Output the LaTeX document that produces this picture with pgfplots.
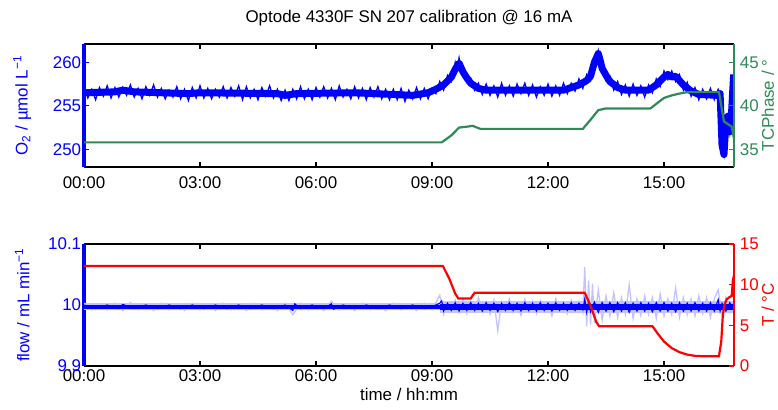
\documentclass[border=0pt]{standalone}
\usepackage{fontspec}
\setmainfont{Liberation Sans}
\usepackage{pgfplots}
\usepackage{pgfplotstable}
\pgfplotsset{compat=1.18}
\definecolor{tcgreen}{RGB}{46,139,87}
\definecolor{lightflow}{RGB}{195,195,255}

% smoothed O2 trace (centre of the noisy band)
\pgfplotstableread{
t v
0.0 256.5
0.8 256.6
1.0 256.8
1.3 256.6
2.0 256.5
2.7 256.4
3.0 256.5
5.0 256.4
5.2 256.2
5.5 256.4
7.0 256.5
8.0 256.3
8.5 256.2
8.9 256.5
9.1 256.9
9.3 257.4
9.5 258.3
9.6 259.2
9.7 259.9
9.8 258.9
9.9 258.2
10.0 257.6
10.2 257.0
10.4 256.8
12.4 256.8
12.6 257.1
12.8 257.4
13.0 257.9
13.1 258.4
13.2 260.0
13.3 261.0
13.35 260.2
13.4 259.3
13.5 258.5
13.6 257.8
13.8 257.1
14.0 256.8
14.6 256.8
14.8 257.4
15.0 258.3
15.1 258.6
15.2 258.3
15.3 258.4
15.5 257.4
15.7 256.7
15.9 256.3
16.4 256.2
16.45 256.4
16.5 250.5
16.55 249.4
16.6 253.0
16.65 253.8
16.7 252.0
16.75 254.5
16.8 258.6
}\otwobase

% O2 noisy samples
\pgfplotstableread{
t v
0.0 257.2
0.1 255.9
0.2 256.9
0.3 255.7
0.4 257.1
0.5 256.1
0.6 257.3
0.7 255.9
0.8 257.1
0.9 256.0
1.0 257.1
1.1 256.2
1.2 257.4
1.3 256.0
1.4 257.0
1.5 255.8
1.6 257.2
1.7 256.2
1.8 257.4
1.9 256.0
2.0 257.0
2.1 255.8
2.2 256.8
2.3 256.0
2.4 257.2
2.5 255.8
2.6 256.9
2.7 255.6
2.8 257.1
2.9 255.9
3.0 257.3
3.1 255.9
3.2 257.0
3.3 255.8
3.4 256.9
3.5 256.0
3.6 257.2
3.7 255.9
3.8 257.1
3.9 256.1
4.0 257.3
4.1 255.7
4.2 257.2
4.3 255.9
4.4 256.9
4.5 255.7
4.6 257.1
4.7 256.1
4.8 257.3
4.9 255.9
5.0 256.9
5.1 255.6
5.2 256.8
5.3 255.6
5.4 256.9
5.5 255.8
5.6 257.2
5.7 255.8
5.8 256.9
5.9 255.7
6.0 257.1
6.1 256.0
6.2 257.2
6.3 255.9
6.4 257.0
6.5 255.7
6.6 257.3
6.7 256.0
6.8 256.9
6.9 255.8
7.0 257.2
7.1 255.9
7.2 257.0
7.3 255.7
7.4 257.1
7.5 256.0
7.6 257.2
7.7 255.8
7.8 256.9
7.9 255.7
8.0 256.9
8.1 255.7
8.2 257.0
8.3 255.5
8.4 256.8
8.5 255.8
8.6 257.1
8.7 255.8
8.8 257.0
8.9 255.8
9.0 257.0
9.1 256.4
9.2 257.8
9.3 256.8
9.4 258.5
9.5 257.8
9.6 260.0
9.65 259.2
9.7 260.5
9.75 259.2
9.8 259.5
9.9 257.7
10.0 258.2
10.1 256.8
10.2 257.6
10.3 256.3
10.4 257.5
10.5 256.2
10.6 257.3
10.7 256.0
10.8 257.6
10.9 256.2
11.0 257.3
11.1 256.1
11.2 257.5
11.3 256.4
11.4 257.6
11.5 256.2
11.6 257.4
11.7 256.0
11.8 257.2
11.9 256.2
12.0 257.5
12.1 256.1
12.2 257.3
12.3 256.2
12.4 257.6
12.5 256.4
12.6 257.6
12.7 256.7
12.8 258.1
12.9 257.0
13.0 258.6
13.1 257.9
13.2 260.4
13.25 260.2
13.3 261.3
13.35 259.8
13.4 259.8
13.5 257.9
13.6 258.4
13.7 256.8
13.8 257.8
13.9 256.3
14.0 257.4
14.1 256.1
14.2 257.5
14.3 256.2
14.4 257.3
14.5 256.0
14.6 257.4
14.7 256.5
14.8 258.1
14.9 257.2
15.0 259.0
15.1 258.0
15.2 259.0
15.3 257.8
15.4 258.6
15.5 256.8
15.6 257.7
15.7 256.1
15.8 257.1
15.9 255.7
16.0 256.9
16.1 255.8
16.2 257.0
16.3 255.7
16.4 256.9
16.45 256.4
16.5 250.5
16.55 249.4
16.6 253.0
16.65 253.8
16.7 252.0
16.75 254.5
16.8 258.6
}\otwo

\pgfplotstableread{
t v
0.0 35.8
9.25 35.8
9.5 36.6
9.7 37.5
9.9 37.6
10.05 37.7
10.25 37.35
12.9 37.35
13.1 38.4
13.3 39.5
13.5 39.7
14.65 39.7
14.85 40.4
15.0 40.9
15.2 41.2
15.5 41.5
15.7 41.6
16.42 41.6
16.5 39.5
16.55 38.2
16.65 37.9
16.75 37.6
16.81 36.2
}\tcphase

\pgfplotstableread{
t v
0.0 12.3
9.28 12.3
9.45 10.7
9.6 8.9
9.68 8.3
10.0 8.3
10.1 9.0
12.95 9.0
13.1 7.4
13.25 5.4
13.32 4.9
14.7 4.9
14.85 3.9
15.0 3.0
15.2 2.2
15.4 1.7
15.6 1.4
15.8 1.25
16.0 1.2
16.42 1.2
16.48 3.0
16.52 6.2
16.56 7.5
16.62 8.2
16.7 8.5
16.75 8.6
16.78 10.5
16.81 11.2
}\temp

% flow: centre of the band, quiet and noisy parts
\pgfplotstableread{
t v
0.0 9.997
9.2 9.997
}\flowbaseA
\pgfplotstableread{
t v
9.2 9.997
16.81 9.997
}\flowbaseB

% raw flow (light)
\pgfplotstableread{
t v
0.0 10.003
0.2 9.992
0.4 10.002
0.6 9.992
0.8 10.003
1.0 9.991
1.2 10.004
1.4 9.992
1.6 10.002
1.8 9.991
2.0 10.003
2.2 9.992
2.4 10.002
2.6 9.991
2.8 10.003
3.0 9.992
3.2 10.002
3.4 9.991
3.6 10.003
3.8 9.992
4.0 10.002
4.2 9.991
4.4 10.003
4.6 9.992
4.8 10.002
5.0 9.991
5.2 10.003
5.4 9.984
5.6 10.003
5.8 9.992
6.0 10.002
6.2 9.991
6.4 10.006
6.6 9.992
6.8 10.002
7.0 9.991
7.2 10.003
7.4 9.992
7.6 10.002
7.8 9.991
8.0 10.003
8.2 9.992
8.4 10.002
8.6 9.991
8.8 10.003
9.0 9.992
9.2 10.016
9.3 9.985
9.4 10.004
9.5 9.990
9.6 10.008
9.7 9.988
9.8 10.010
9.9 9.986
10.0 10.006
10.1 9.991
10.2 10.012
10.3 9.990
10.4 10.003
10.5 9.985
10.6 10.008
10.7 9.958
10.8 10.005
10.9 9.990
11.0 10.010
11.1 9.988
11.2 10.004
11.3 9.983
11.4 10.009
11.5 9.990
11.6 10.006
11.7 9.986
11.8 10.007
11.9 9.991
12.0 10.004
12.1 9.982
12.2 10.010
12.3 9.990
12.4 10.005
12.5 9.986
12.6 10.008
12.7 9.990
12.8 10.006
12.9 9.988
12.95 10.062
13.0 9.965
13.05 10.040
13.1 9.968
13.15 10.035
13.2 9.970
13.3 10.025
13.4 9.975
13.5 10.015
13.6 9.982
13.7 10.020
13.8 9.980
13.9 10.012
14.0 9.985
14.1 10.033
14.2 9.978
14.3 10.010
14.4 9.983
14.5 10.015
14.6 9.985
14.7 10.012
14.8 9.978
14.9 10.018
15.0 9.982
15.1 10.010
15.2 9.985
15.3 10.028
15.4 9.980
15.5 10.012
15.6 9.984
15.7 10.010
15.8 9.982
15.9 10.015
16.0 9.986
16.1 10.012
16.2 9.980
16.3 10.010
16.4 10.025
16.5 9.985
16.6 10.012
16.7 9.988
16.8 10.008
}\flowraw

% filtered flow (dark)
\pgfplotstableread{
t v
0.0 10.000
0.3 9.994
0.6 10.000
0.9 9.994
1.0 10.001
1.3 9.994
1.6 10.000
1.9 9.994
2.2 10.000
2.5 9.994
2.8 10.000
3.1 9.994
3.4 10.000
3.7 9.994
4.0 10.000
4.3 9.994
4.6 10.000
4.9 9.994
5.2 10.000
5.4 9.991
5.45 10.002
5.6 9.994
5.9 10.000
6.2 9.994
6.4 10.002
6.45 9.993
6.7 10.000
7.0 9.994
7.3 10.000
7.6 9.994
7.9 10.000
8.2 9.994
8.5 10.000
8.8 9.994
9.1 10.000
9.2 10.003
9.25 10.007
9.3 9.990
9.4 10.003
9.5 9.991
9.6 10.004
9.7 9.990
9.8 10.003
9.9 9.991
10.0 10.004
10.1 9.991
10.2 10.003
10.3 9.990
10.4 10.004
10.5 9.991
10.6 10.003
10.7 9.989
10.8 10.003
10.9 9.991
11.0 10.004
11.1 9.991
11.2 10.003
11.3 9.990
11.4 10.004
11.5 9.991
11.6 10.003
11.7 9.990
11.8 10.004
11.9 9.991
12.0 10.003
12.1 9.990
12.2 10.004
12.3 9.991
12.4 10.003
12.5 9.991
12.6 10.004
12.7 9.991
12.8 10.003
12.9 9.992
12.95 10.010
13.0 9.988
13.05 10.006
13.1 9.989
13.2 10.005
13.3 9.988
13.4 10.004
13.5 9.990
13.6 10.004
13.7 9.989
13.8 10.004
13.9 9.990
14.0 10.004
14.1 9.988
14.2 10.003
14.3 9.990
14.4 10.004
14.5 9.990
14.6 10.003
14.7 9.989
14.8 10.004
14.9 9.990
15.0 10.004
15.1 9.990
15.2 10.003
15.3 9.989
15.4 10.004
15.5 9.990
15.6 10.003
15.7 9.990
15.8 10.004
15.9 9.990
16.0 10.003
16.1 9.990
16.2 10.004
16.3 9.990
16.4 10.009
16.45 9.990
16.5 10.003
16.6 9.990
16.7 10.004
16.8 9.992
}\flow

\pgfplotsset{
  mybase/.style={
    scale only axis, width=650bp,
    xmin=0, xmax=16.81,
    tick align=inside,
    major tick length=5bp,
    every tick/.style={line width=1.2bp},
    clip=true,
  },
  myxaxis/.style={
    separate axis lines,
    axis x line*=box,
    x axis line style={black, line width=2bp},
    xtick={0,3,6,9,12,15},
    xticklabels={00:00,03:00,06:00,09:00,12:00,15:00},
    xtick style={black},
  },
}

\begin{document}
\fontsize{17}{20}\selectfont
\begin{tikzpicture}[x=1bp,y=1bp]
\useasboundingbox (0,0) rectangle (778,409);

% ---------- top panel, left axis ----------
\begin{axis}[mybase, myxaxis,
  at={(84bp,242bp)}, anchor=south west, height=123bp,
  axis y line*=left,
  y axis line style={blue, line width=3.5bp},
  ymin=247.97, ymax=262.1,
  ytick={250,255,260}, yticklabels={250,255,260},
  ytick style={blue},
  y tick label style={text=blue, xshift=3bp},
  x tick label style={yshift=-4bp},
  ylabel={O\textsubscript{2} / µmol L\textsuperscript{−1}},
  ylabel style={text=blue, at={(axis description cs:-0.095,0.5)}, anchor=center},
  title={Optode 4330F SN 207 calibration @ 16 mA},
  title style={at={(axis description cs:0.5,1)}, anchor=base, yshift=16bp},
]
\addplot[blue, line width=7bp, line join=round] table[x=t, y=v] {\otwobase};
\addplot[blue, line width=1.3bp] table[x=t, y=v] {\otwo};
\end{axis}

% ---------- top panel, right axis ----------
\begin{axis}[mybase,
  at={(84bp,242bp)}, anchor=south west, height=123bp,
  axis x line=none,
  axis y line*=right,
  y axis line style={tcgreen, line width=2bp},
  ymin=32.97, ymax=47.1,
  ytick={35,40,45}, yticklabels={35,40,45},
  ytick style={tcgreen},
  y tick label style={text=tcgreen},
  ylabel={TCPhase / °},
  ylabel style={text=tcgreen, at={(axis description cs:1.052,0.5)}, anchor=center},
]
\addplot[tcgreen, line width=2.2bp] table[x=t, y=v] {\tcphase};
\end{axis}

% ---------- bottom panel, left axis ----------
\begin{axis}[mybase, myxaxis,
  at={(84bp,43bp)}, anchor=south west, height=122bp,
  axis y line*=left,
  y axis line style={blue, line width=3.5bp},
  ymin=9.9, ymax=10.1,
  ytick={9.9,10,10.1}, yticklabels={9.9,10,10.1},
  ytick style={blue},
  y tick label style={text=blue, xshift=3bp},
  x tick label style={yshift=2bp},
  ylabel={flow / mL min\textsuperscript{−1}},
  ylabel style={text=blue, at={(axis description cs:-0.095,0.5)}, anchor=center},
  xlabel={time / hh:mm},
  xlabel style={at={(axis description cs:0.5,0)}, anchor=base, yshift=-34bp},
]
\addplot[lightflow, line width=7bp] table[x=t, y=v] {\flowbaseA};
\addplot[lightflow, line width=12bp] table[x=t, y=v] {\flowbaseB};
\addplot[lightflow, line width=1.3bp] table[x=t, y=v] {\flowraw};
\addplot[blue, line width=3.5bp] table[x=t, y=v] {\flowbaseA};
\addplot[blue, line width=5.5bp] table[x=t, y=v] {\flowbaseB};
\addplot[blue, line width=1.1bp] table[x=t, y=v] {\flow};
\end{axis}

% ---------- bottom panel, right axis ----------
\begin{axis}[mybase,
  at={(84bp,43bp)}, anchor=south west, height=122bp,
  axis x line=none,
  axis y line*=right,
  y axis line style={red, line width=2bp},
  ymin=0, ymax=15,
  ytick={0,5,10,15}, yticklabels={0,5,10,15},
  ytick style={red},
  y tick label style={text=red},
  ylabel={T / °C},
  ylabel style={text=red, at={(axis description cs:1.052,0.5)}, anchor=center},
]
\addplot[red, line width=2.2bp] table[x=t, y=v] {\temp};
\end{axis}
\end{tikzpicture}
\end{document}
